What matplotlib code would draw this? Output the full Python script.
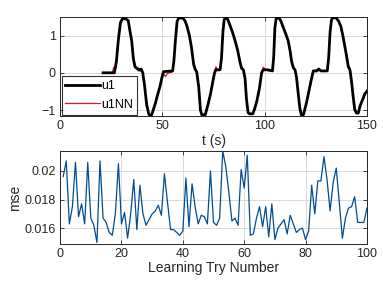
import numpy as np
import matplotlib
matplotlib.use("Agg")
import matplotlib.pyplot as plt

# top panel: u1 and its NN fit (breakpoints)
t_u1 = [21, 26.5, 27.5, 28.5, 29.5, 30.5, 32, 33.3, 34.2, 35, 35.8, 36.6, 37.5, 38.3, 39, 39.6,
        40.4, 41.2, 42.3, 43.3, 44, 44.8, 46.4, 47.6, 48.9, 49.8, 50.5, 55,
        55.6, 56.4, 57.2, 58, 60, 61, 61.9, 63.2, 64.3, 65.3, 66, 66.8, 67.8, 68.6, 69.3, 71,
        72.3, 73.6, 74.6, 75.5, 76.2, 78.2,
        78.9, 79.6, 80.2, 80.8, 81.8, 83, 84.2, 85.5, 86.8, 87.9, 88.7, 89.6, 90.4, 91.1, 91.9,
        92.6, 94.2, 95.2, 96.2, 97.5, 98.5, 99.3, 101.5, 103.8,
        104.4, 105, 105.6, 107, 108, 109, 110.2, 111.5, 112.4, 113.2, 114, 114.9, 115.6, 116.4,
        117.2, 118, 119, 120.5, 121.8, 122.9, 123.8, 125.5, 126.5, 127.5, 130.6,
        131.3, 132, 132.7, 133.4, 135, 136.2, 137.3, 138.4, 139.4, 140.2, 140.9, 141.7, 142.4,
        143.2, 144, 144.9, 145.8, 146.6, 147.4, 148.2, 149, 150]
u1 = [0, 0, 0.3, 0.9, 1.35, 1.45, 1.45, 1.4, 1.1, 0.85, 0.38, 0.16, 0.12, 0.1, 0.07, 0.1,
      0.0, -0.3, -0.85, -1.1, -1.16, -1.12, -0.85, -0.6, -0.35, -0.12, 0.03, 0.05,
      0.3, 0.9, 1.38, 1.47, 1.47, 1.4, 1.27, 1.0, 0.65, 0.22, 0.1, 0.02, -0.4, -1.0, -1.13, -1.12,
      -0.85, -0.55, -0.25, 0.0, 0.08, 0.08,
      0.4, 1.1, 1.42, 1.47, 1.45, 1.28, 1.1, 0.87, 0.6, 0.3, 0.12, 0.08, -0.15, -0.7, -1.07,
      -1.1, -1.1, -0.95, -0.75, -0.4, 0.0, 0.08, 0.08, 0.05,
      0.4, 1.2, 1.45, 1.48, 1.38, 1.23, 1.06, 0.86, 0.6, 0.3, 0.14, 0.07, -0.13, -0.55,
      -0.95, -1.14, -1.12, -0.79, -0.45, -0.16, 0.05, 0.05, 0.1, 0.05, 0.05,
      0.4, 1.1, 1.42, 1.48, 1.47, 1.38, 1.24, 0.95, 0.65, 0.4, 0.16, 0.08, -0.2,
      -0.6, -0.98, -1.08, -1.08, -0.9, -0.78, -0.68, -0.56, -0.5]

t_nn = [21, 25.5, 26.2, 27, 27.6, 28.5, 29.5, 30.5, 32, 33.3, 34.2, 35, 35.8, 36.6, 37.5, 38.3,
        39, 39.6, 40.4, 41.2, 42.3, 43.3, 44, 44.8, 46.4, 47.6, 48.9, 49.8, 50.5, 51.5, 52.5,
        55, 55.6, 56.4, 57.2, 58, 60, 61, 61.9, 63.2, 64.3, 65.3, 66, 66.8, 67.8, 68.6, 69.3, 71,
        72.3, 73.6, 74.6, 75.5, 76.2, 77, 78.2,
        78.9, 79.6, 80.2, 80.8, 81.8, 83, 84.2, 85.5, 86.8, 87.9, 88.7, 89.6, 90.4, 91.1, 91.9,
        92.6, 94.2, 95.2, 96.2, 97.5, 98.5, 99.3, 100.2, 101.5, 103.8,
        104.4, 105, 105.6, 107, 108, 109, 110.2, 111.5, 112.4, 113.2, 114, 114.9, 115.6, 116.4,
        117.2, 118, 119, 120.5, 121.8, 122.9, 123.8, 125.5, 126.5, 127.5, 130.6,
        131.3, 132, 132.7, 133.4, 135, 136.2, 137.3, 138.4, 139.4, 140.2, 140.9, 141.7, 142.4,
        143.2, 144, 144.9, 145.8, 146.6, 147.4, 148.2, 149, 150]
u1nn = [0, 0, 0.14, 0.1, 0.35, 0.9, 1.33, 1.44, 1.45, 1.38, 1.12, 0.83, 0.4, 0.18, 0.1, 0.05,
        0.1, 0.12, 0.02, -0.3, -0.83, -1.1, -1.14, -1.12, -0.87, -0.62, -0.33, -0.12, -0.02, -0.1, -0.02,
        0.03, 0.3, 0.9, 1.36, 1.47, 1.46, 1.4, 1.27, 1.0, 0.63, 0.25, 0.15, 0.0, -0.42, -1.0, -1.12, -1.11,
        -0.83, -0.55, -0.22, 0.05, 0.16, 0.06, 0.08,
        0.4, 1.1, 1.42, 1.46, 1.44, 1.3, 1.1, 0.86, 0.6, 0.3, 0.16, 0.1, -0.12, -0.7, -1.05,
        -1.1, -1.1, -0.93, -0.75, -0.38, 0.02, 0.15, 0.1, 0.06, 0.05,
        0.4, 1.2, 1.44, 1.47, 1.38, 1.22, 1.06, 0.86, 0.6, 0.3, 0.16, 0.05, -0.1, -0.55,
        -0.95, -1.12, -1.1, -0.79, -0.43, -0.12, 0.05, 0.08, 0.12, 0.05, 0.05,
        0.4, 1.1, 1.41, 1.47, 1.46, 1.38, 1.24, 0.96, 0.65, 0.4, 0.2, 0.12, -0.18,
        -0.6, -0.97, -1.07, -1.08, -0.92, -0.8, -0.7, -0.6, -0.45]

# bottom panel: mse per learning try
try_num = np.arange(1, 101)
mse = [0.0196, 0.0207, 0.0163, 0.0175, 0.0206, 0.0168, 0.0177, 0.0163, 0.0206, 0.0167,
       0.0162, 0.0150, 0.0207, 0.0167, 0.0164, 0.0157, 0.0155, 0.0170, 0.0205, 0.0163,
       0.0171, 0.0153, 0.0170, 0.0194, 0.0159, 0.0190, 0.0170, 0.0162, 0.0166, 0.0170,
       0.0172, 0.0176, 0.0169, 0.0198, 0.0178, 0.0159, 0.0159, 0.0157, 0.0155, 0.0158,
       0.0195, 0.0161, 0.0191, 0.0175, 0.0163, 0.0169, 0.0168, 0.0163, 0.0200, 0.0164,
       0.0162, 0.0167, 0.0214, 0.0203, 0.0185, 0.0165, 0.0167, 0.0162, 0.0201, 0.0188,
       0.0211, 0.0155, 0.0156, 0.0167, 0.0175, 0.0161, 0.0175, 0.0154, 0.0177, 0.0152,
       0.0160, 0.0163, 0.0166, 0.0156, 0.0169, 0.0163, 0.0157, 0.0159, 0.0160, 0.0152,
       0.0158, 0.0190, 0.0170, 0.0193, 0.0193, 0.0210, 0.0194, 0.0172, 0.0192, 0.0202,
       0.0178, 0.0153, 0.0167, 0.0174, 0.0175, 0.0182, 0.0164, 0.0164, 0.0164, 0.0174]

plt.rcParams['font.family'] = ['Liberation Sans', 'DejaVu Sans']
txt = (0.15, 0.15, 0.15)

fig = plt.figure(figsize=(3.83, 2.81), dpi=100)
ax1 = fig.add_axes([0.157, 0.587, 0.801, 0.353])
ax2 = fig.add_axes([0.157, 0.132, 0.801, 0.331])

ax1.plot(t_nn, u1nn, color=(0.85, 0.1, 0.1), lw=0.9, label='u1NN', zorder=2)
ax1.plot(t_u1, u1, color='black', lw=2.0, label='u1', zorder=3)
ax1.set_xlim(0, 150)
ax1.set_ylim(-1.16, 1.5)
ax1.set_xticks([0, 50, 100, 150])
ax1.set_yticks([-1, 0, 1])
ax1.set_xlabel('t (s)', fontsize=10, color=txt, labelpad=1)
h, l = ax1.get_legend_handles_labels()
leg = ax1.legend(h[::-1], l[::-1], loc='lower left', fontsize=9, frameon=True,
                 fancybox=False, edgecolor='black', borderpad=0.3, handlelength=2.8,
                 handletextpad=0.1, labelspacing=0.55, borderaxespad=0.12)
leg.get_frame().set_linewidth(0.8)

ax2.plot(try_num, mse, color=(0.0, 0.30, 0.58), lw=0.9)
ax2.set_xlim(0, 100)
ax2.set_ylim(0.0149, 0.0214)
ax2.set_xticks([0, 20, 40, 60, 80, 100])
ax2.set_yticks([0.016, 0.018, 0.02])
ax2.set_yticklabels(['0.016', '0.018', '0.02'])
ax2.set_xlabel('Learning Try Number', fontsize=10, color=txt, labelpad=1)
ax2.set_ylabel('mse', fontsize=10, color=txt, labelpad=2)

for ax in (ax1, ax2):
    ax.grid(True, color=(0.85, 0.85, 0.85), lw=0.7)
    ax.set_axisbelow(True)
    ax.tick_params(direction='in', length=3, width=0.6, labelsize=9, colors=txt,
                   top=True, right=True, pad=3)
    for s in ax.spines.values():
        s.set_color(txt)
        s.set_linewidth(0.7)

fig.savefig('out.png', dpi=100)
